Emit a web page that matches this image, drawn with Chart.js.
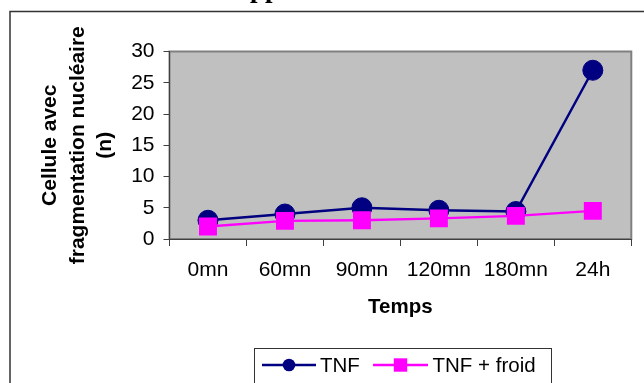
<!DOCTYPE html>
<html>
<head>
<meta charset="utf-8">
<script src="https://cdn.jsdelivr.net/npm/chart.js@4/dist/chart.umd.min.js"></script>
<style>
  html, body { margin: 0; padding: 0; background: #fff; }
  #wrap { position: relative; width: 644px; height: 383px; overflow: hidden; }
  #top { position: absolute; left: 250px; top: -25.2px; font: bold 27px 'Liberation Serif', 'Times New Roman', serif; line-height: 27px; color: #000; white-space: nowrap; }
  canvas { position: absolute; left: 0; top: 0; }
</style>
</head>
<body>
<div id="wrap">
  <canvas id="c" width="644" height="383"></canvas>
  <div id="top">pp</div>
</div>
<script>
const categories = ['0mn', '60mn', '90mn', '120mn', '180mn', '24h'];
const tnfValues = [3, 4, 5, 4.6, 4.4, 27];
const tnfFroidValues = [2, 2.9, 3, 3.3, 3.7, 4.5];
const yTicks = [0, 5, 10, 15, 20, 25, 30];
const seriesNames = ['TNF', 'TNF + froid'];
const xTitle = 'Temps';
const yTitle = ['Cellule avec', 'fragmentation nucléaire', '(n)'];

const FONT = "'Liberation Sans', Arial, sans-serif";

const framePlugin = {
  id: 'framePlugin',
  beforeDraw(chart) {
    const ctx = chart.ctx;
    const a = chart.chartArea;
    ctx.save();
    ctx.fillStyle = '#fff';
    ctx.fillRect(0, 0, chart.width, chart.height);
    ctx.strokeStyle = '#333';
    ctx.lineWidth = 1.5;
    ctx.strokeRect(10, 11.5, 800, 600);
    ctx.fillStyle = '#C0C0C0';
    ctx.fillRect(a.left, a.top, a.right - a.left, a.bottom - a.top);
    ctx.strokeStyle = '#808080';
    ctx.lineWidth = 2;
    ctx.strokeRect(a.left, a.top, a.right - a.left, a.bottom - a.top);
    ctx.restore();
  },
  afterDraw(chart) {
    const ctx = chart.ctx;
    ctx.save();
    ctx.fillStyle = '#fff';
    ctx.fillRect(254, 348, 297, 50);
    ctx.strokeStyle = '#333';
    ctx.lineWidth = 1;
    ctx.strokeRect(254.5, 348.5, 297, 50);
    const y = 365;
    const items = [
      { ds: chart.data.datasets[0], x0: 262, x1: 316, tx: 320 },
      { ds: chart.data.datasets[1], x0: 373, x1: 428, tx: 432.5 }
    ];
    items.forEach(it => {
      ctx.strokeStyle = it.ds.borderColor;
      ctx.lineWidth = 2.5;
      ctx.beginPath();
      ctx.moveTo(it.x0, y);
      ctx.lineTo(it.x1, y);
      ctx.stroke();
      const cx = (it.x0 + it.x1) / 2;
      ctx.fillStyle = it.ds.backgroundColor;
      if (it.ds.pointStyle === 'circle') {
        ctx.beginPath();
        ctx.arc(cx, y, 6.3, 0, Math.PI * 2);
        ctx.fill();
      } else {
        ctx.fillRect(cx - 6.7, y - 6.7, 13.4, 13.4);
      }
      ctx.fillStyle = '#000';
      ctx.font = '20.5px ' + FONT;
      ctx.textBaseline = 'middle';
      ctx.textAlign = 'left';
      ctx.fillText(it.ds.label, it.tx, y + 1);
    });
    ctx.restore();
  }
};

new Chart(document.getElementById('c'), {
  type: 'line',
  data: {
    labels: categories,
    datasets: [
      {
        label: seriesNames[0],
        data: tnfValues,
        borderColor: '#000080',
        backgroundColor: '#000080',
        borderWidth: 2.5,
        pointStyle: 'circle',
        pointRadius: 10,
        pointBorderWidth: 1,
        tension: 0,
        order: 1
      },
      {
        label: seriesNames[1],
        data: tnfFroidValues,
        borderColor: '#FF00FF',
        backgroundColor: '#FF00FF',
        borderWidth: 2.5,
        pointStyle: 'rect',
        pointRadius: 12.7,
        pointBorderWidth: 0,
        tension: 0,
        order: 0
      }
    ]
  },
  options: {
    responsive: false,
    animation: false,
    devicePixelRatio: 1,
    layout: { padding: { left: 0, right: 7.3, top: 51.5, bottom: 0 } },
    plugins: { legend: { display: false }, tooltip: { enabled: false } },
    scales: {
      x: {
        type: 'category',
        offset: true,
        grid: { display: true, drawOnChartArea: false, drawTicks: true, tickLength: 7, color: '#404040', offset: true },
        border: { display: true, color: '#404040', width: 1 },
        ticks: { color: '#000', font: { family: FONT, size: 21 }, padding: 12, maxRotation: 0, autoSkip: false },
        title: { display: true, text: xTitle, color: '#000', font: { family: FONT, size: 20.5, weight: 'bold', lineHeight: 1.2 }, padding: { top: 0, bottom: 63 } },
        afterFit(s) { s.height = 144; }
      },
      y: {
        min: 0,
        max: 30,
        afterBuildTicks(s) { s.ticks = yTicks.map(v => ({ value: v })); },
        grid: { display: true, drawOnChartArea: false, drawTicks: true, tickLength: 6, color: '#404040' },
        border: { display: true, color: '#404040', width: 1 },
        ticks: { color: '#000', font: { family: FONT, size: 21 }, padding: 9 },
        title: { display: true, text: yTitle, color: '#000', font: { family: FONT, size: 21, weight: 'bold', lineHeight: 1.3 }, padding: { top: 37, bottom: 0 } },
        afterFit(s) { s.width = 169.5; }
      }
    }
  },
  plugins: [framePlugin]
});
</script>
</body>
</html>
